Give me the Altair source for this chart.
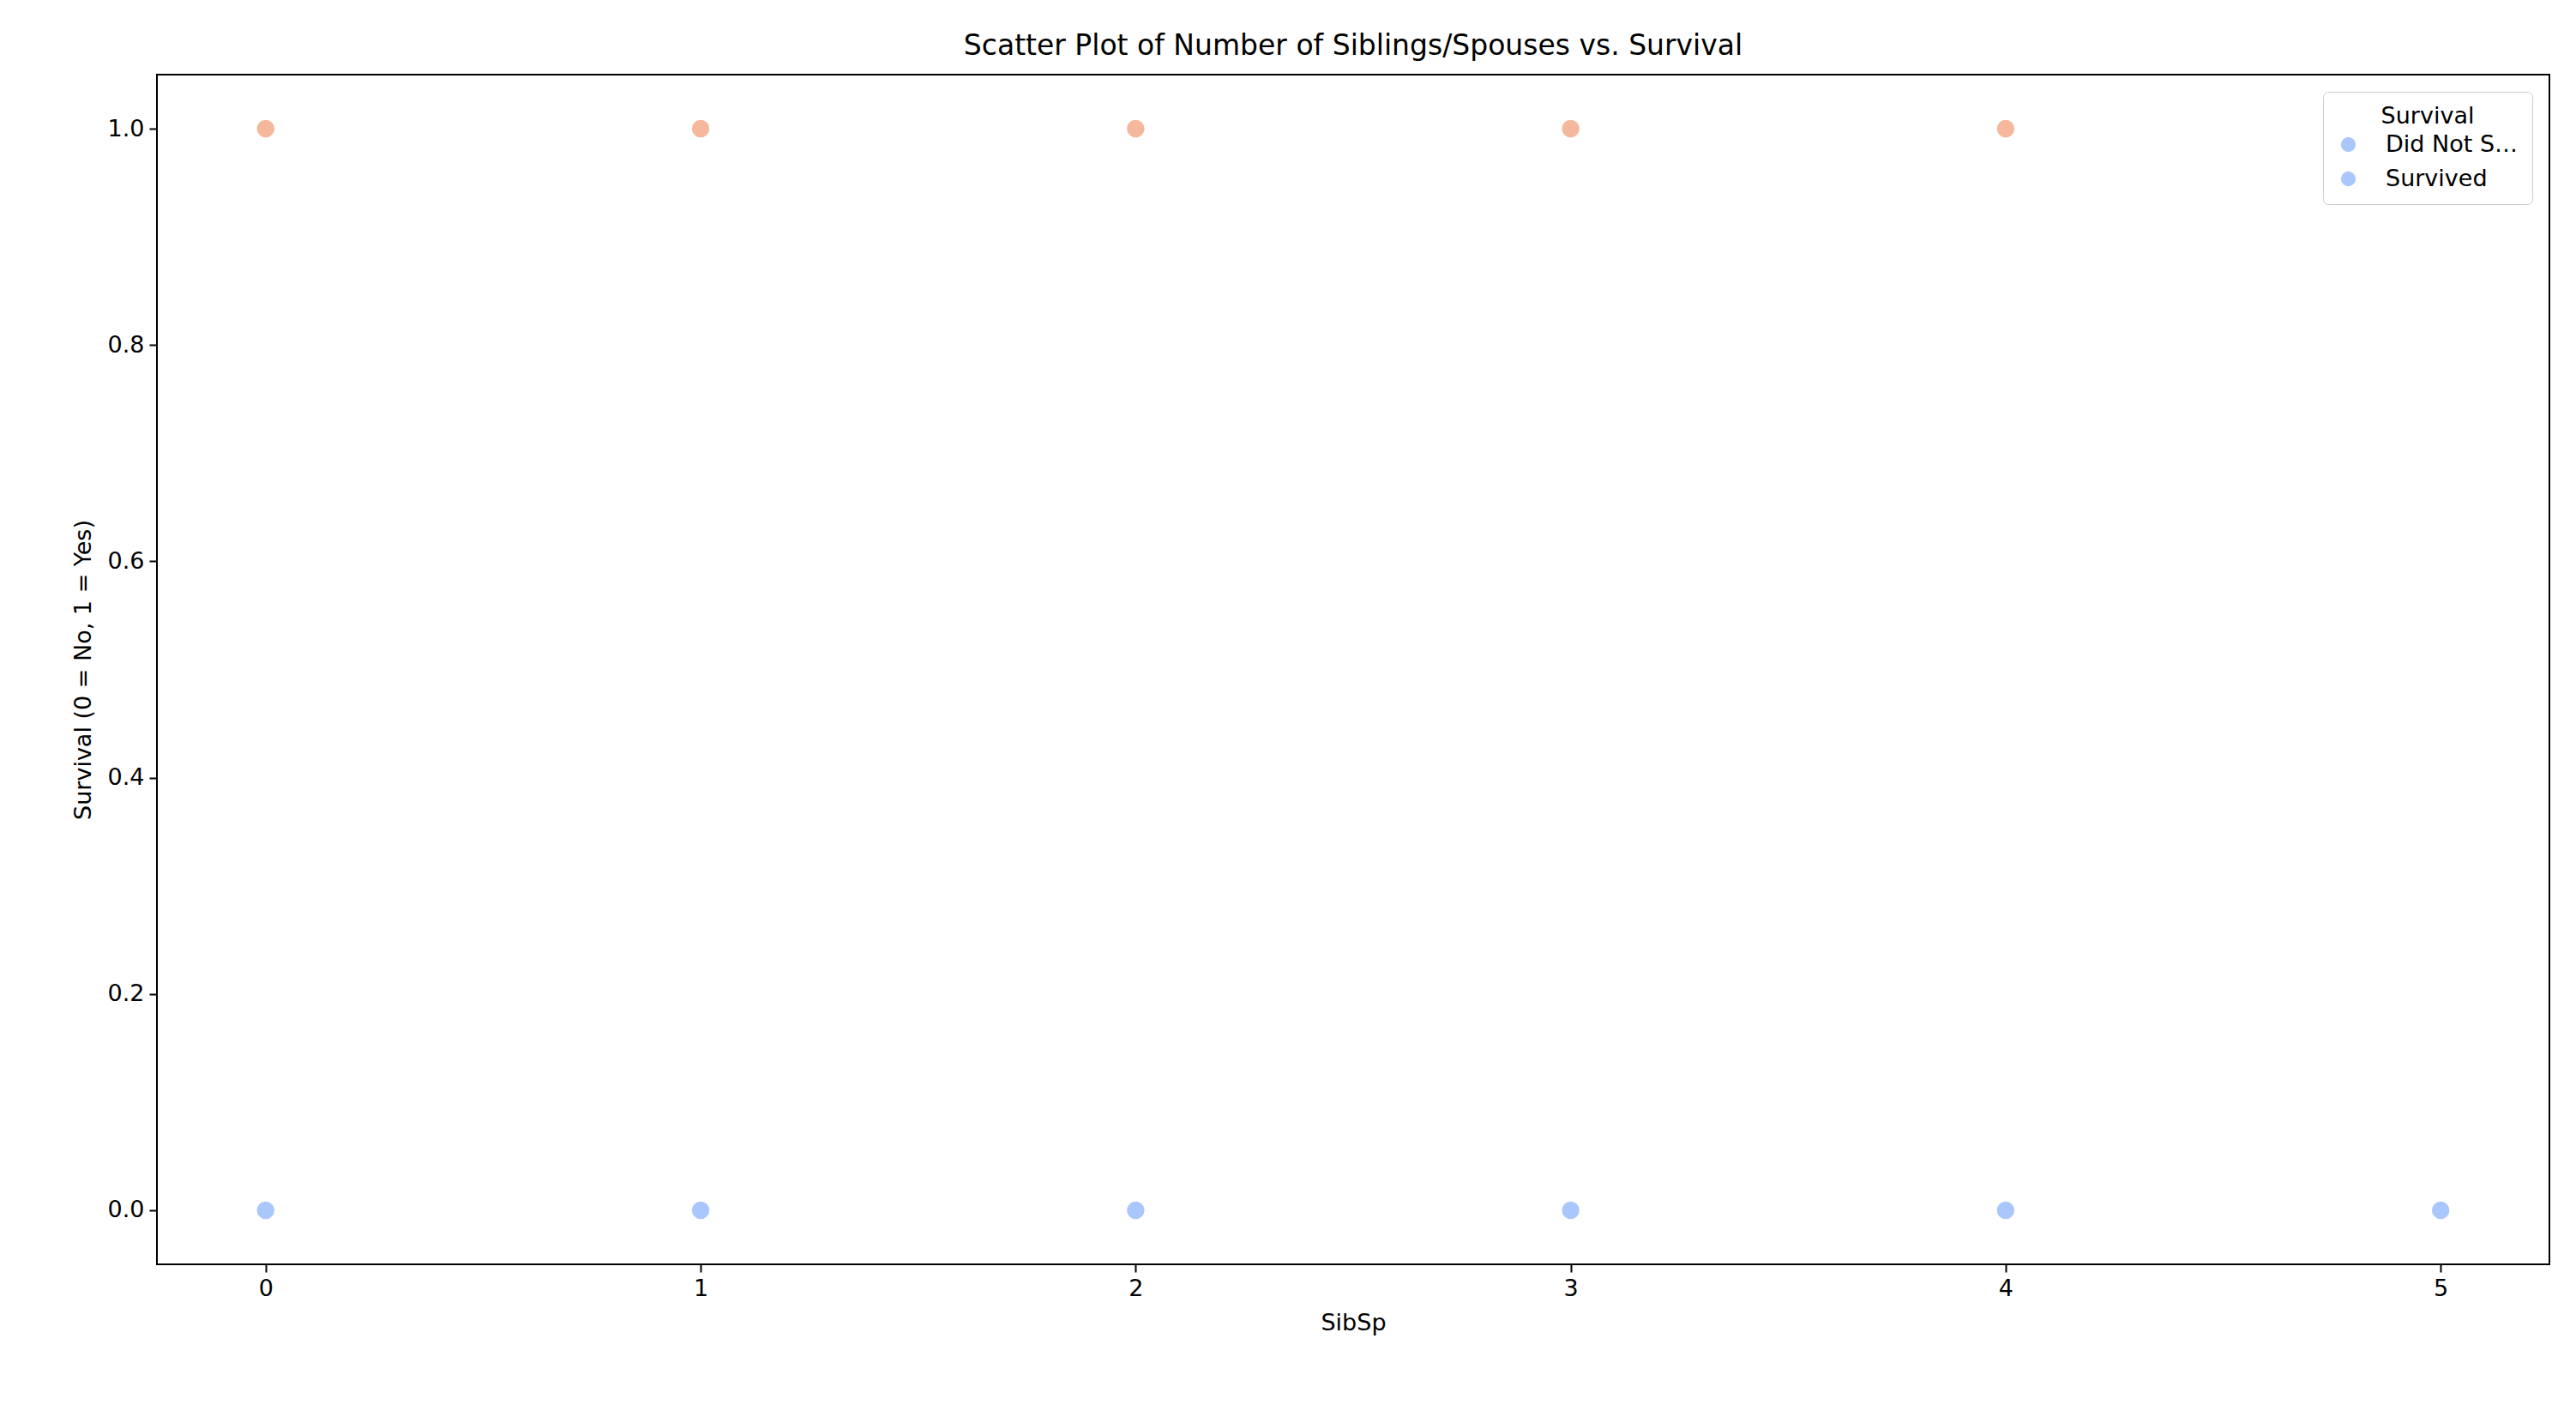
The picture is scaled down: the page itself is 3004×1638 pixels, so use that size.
import pandas as pd
import altair as alt

# values
sibsp = [0, 1, 2, 3, 4, 0, 1, 2, 3, 4, 5]
survived = [1, 1, 1, 1, 1, 0, 0, 0, 0, 0, 0]
legend_labels = ["Did Not Survive", "Survived"]

df = pd.DataFrame({"SibSp": sibsp, "Survived": survived})
df["label"] = df["Survived"].map({0: "Did Not Survive", 1: "Survived"})

font = "DejaVu Sans"
blue = "#aac7fd"

points = alt.Chart(df).mark_point(size=420, opacity=1, filled=True).encode(
    x=alt.X("SibSp:Q", title="SibSp",
            scale=alt.Scale(domain=[-0.25, 5.25], nice=False, zero=False),
            axis=alt.Axis(values=[0, 1, 2, 3, 4, 5], format="d", grid=False)),
    y=alt.Y("Survived:Q", title="Survival (0 = No, 1 = Yes)",
            scale=alt.Scale(domain=[-0.05, 1.05], nice=False),
            axis=alt.Axis(values=[0, 0.2, 0.4, 0.6, 0.8, 1.0], format=".1f", grid=False)),
    color=alt.Color("Survived:N", scale=alt.Scale(domain=[0, 1], range=[blue, "#f5b89c"]),
                    legend=None),
    # legend comes from shape, with both symbols blue as in the original
    shape=alt.Shape("label:N", title="Survival",
                    scale=alt.Scale(domain=legend_labels, range=["circle", "circle"]),
                    legend=alt.Legend(symbolFillColor=blue, symbolStrokeColor=blue,
                                      symbolStrokeWidth=0)),
)

chart = points.properties(
    width=2790, height=1387,
    padding={"left": 75, "top": 30, "right": 5, "bottom": 5},
    title="Scatter Plot of Number of Siblings/Spouses vs. Survival",
).configure_view(stroke="black", strokeWidth=2).configure_axis(
    labelFont=font, titleFont=font, labelFontSize=27, titleFontSize=27,
    titleFontWeight="normal", labelColor="black", titleColor="black",
    domainColor="black", tickColor="black", tickSize=9, tickWidth=2, labelPadding=6,
    titlePadding=14,
).configure_title(
    font=font, fontSize=33, fontWeight="normal", color="black", offset=16,
).configure_legend(
    orient="top-right", offset=20, titleFont=font, labelFont=font,
    titleFontSize=27, labelFontSize=27, titleFontWeight="normal", titleAlign="center",
    titleAnchor="middle", symbolSize=300, symbolType="circle", fillColor="white",
    strokeColor="#cccccc", padding=16, cornerRadius=6, rowPadding=12, labelOffset=30,
)

chart.save("out.html", embed_options={"renderer": "svg", "actions": False})
